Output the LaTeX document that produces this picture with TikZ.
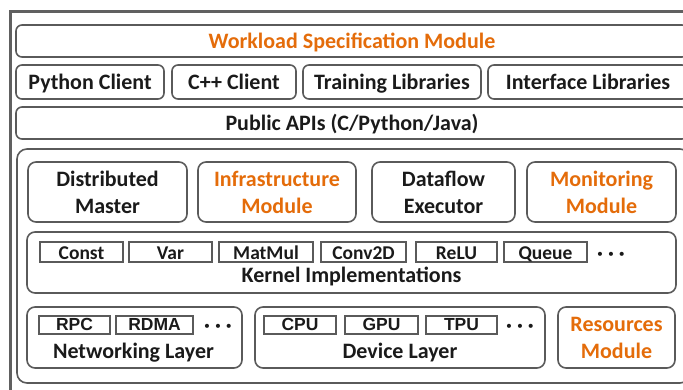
\documentclass[tikz,border=0pt]{standalone}
\usepackage{fontspec}
\setmainfont{Carlito}
\newfontfamily\armono{Liberation Sans}
\definecolor{ink}{HTML}{1A1A1A}
\definecolor{accent}{HTML}{E46C0A}
\definecolor{edge}{HTML}{5A5A5A}
\definecolor{frame}{HTML}{606060}
\begin{document}
\begin{tikzpicture}[x=1pt,y=-1pt,
  lbl/.style={font=\fontsize{22}{27}\selectfont\bfseries, text=ink, align=center, inner sep=0pt},
  olbl/.style={lbl, text=accent},
  rbox/.style={draw=edge, line width=1.6pt, rounded corners=6pt, inner sep=0pt, lbl},
  onebox/.style={rbox, text height=16pt, text depth=2pt},
  mbox/.style={rbox, rounded corners=8pt},
  kbox/.style={draw=edge, line width=1.3pt, inner sep=0pt, minimum height=20pt,
    text height=15pt, text depth=0pt,
    font=\fontsize{19.5}{22}\selectfont\bfseries, text=ink},
  hbox/.style={kbox, minimum height=18pt, text height=12pt, text depth=0.5pt,
    font=\armono\fontsize{17.5}{20}\selectfont\bfseries},
  dots/.style={font=\fontsize{22}{22}\selectfont\bfseries, text=ink, inner sep=0pt}
]
\useasboundingbox (0,0) rectangle (683,389);
\clip (0,0) rectangle (683,389);

% outer frame
\draw[frame, line width=3pt] (10,11) rectangle (705,400);

% top rows
\node[onebox, olbl, minimum width=672pt, minimum height=32pt] (wsm) at (352,41) {Workload Specification Module};
\node[onebox, minimum width=148pt, minimum height=34pt] (py) at (90,82) {Python Client};
\node[onebox, minimum width=124pt, minimum height=34pt] (cpp) at (234,82) {C++ Client};
\node[onebox, minimum width=178pt, minimum height=34pt] (train) at (392,82) {Training Libraries};
\node[onebox, minimum width=200pt, minimum height=34pt] (iface) at (588,82) {Interface Libraries};
\node[onebox, minimum width=672pt, minimum height=32pt] (api) at (352,123) {Public APIs (C/Python/Java)};

% runtime container
\node[draw=edge, line width=1.6pt, rounded corners=10pt, minimum width=673pt, minimum height=234pt] (core) at (353.5,266) {};

% modules row
\node[mbox, minimum width=159pt, minimum height=60pt] (master) at (107.5,192) {Distributed\\Master};
\node[mbox, olbl, minimum width=158pt, minimum height=60pt] (infra) at (277,192) {Infrastructure\\Module};
\node[mbox, minimum width=143pt, minimum height=60pt] (exec) at (443.5,192) {Dataflow\\Executor};
\node[mbox, olbl, minimum width=149pt, minimum height=60pt] (mon) at (601.5,192) {Monitoring\\Module};

% kernels
\node[mbox, minimum width=649pt, minimum height=61pt] (kern) at (351.5,262.5) {};
\node[lbl, anchor=base] (kernlbl) at (351.5,282.5) {Kernel Implementations};
\node[kbox, minimum width=83pt] (kconst) at (81.5,252) {Const};
\node[kbox, minimum width=83pt] (kvar) at (170.5,252) {Var};
\node[kbox, minimum width=94pt] (kmat) at (266,252) {MatMul};
\node[kbox, minimum width=85pt] (kconv) at (363.5,252) {Conv2D};
\node[kbox, minimum width=81pt] (krelu) at (456.5,252) {ReLU};
\node[kbox, minimum width=83pt] (kqueue) at (545.5,252) {Queue};
\node[dots] (kmore) at (611,256) {· · ·};

% networking layer
\node[mbox, minimum width=215pt, minimum height=61pt] (net) at (134.5,337.5) {};
\node[lbl, anchor=base] (netlbl) at (133.5,358.5) {Networking Layer};
\node[hbox, minimum width=71pt] (rpc) at (74.5,325) {RPC};
\node[hbox, minimum width=77pt] (rdma) at (154.5,325) {RDMA};
\node[dots] (netmore) at (218,328.5) {· · ·};

% device layer
\node[mbox, minimum width=290pt, minimum height=61pt] (dev) at (400,337.5) {};
\node[lbl, anchor=base] (devlbl) at (400,358.5) {Device Layer};
\node[hbox, minimum width=72pt] (cpu) at (300,325) {CPU};
\node[hbox, minimum width=73pt] (gpu) at (381.5,325) {GPU};
\node[hbox, minimum width=71pt] (tpu) at (461.5,325) {TPU};
\node[dots] (devmore) at (520,328.5) {· · ·};

% resources
\node[mbox, olbl, minimum width=117pt, minimum height=61pt] (res) at (616.5,337.5) {Resources\\Module};
\end{tikzpicture}
\end{document}
